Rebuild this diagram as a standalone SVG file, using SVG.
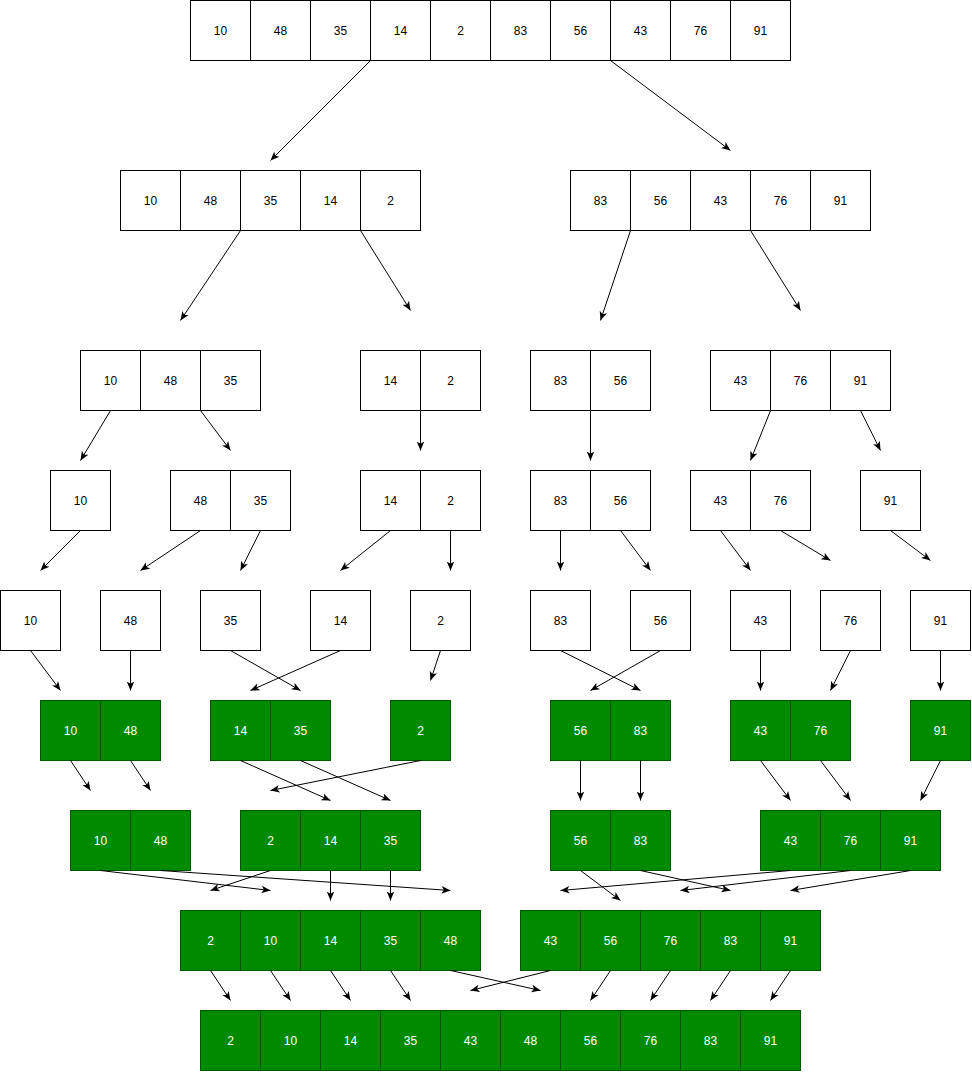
<svg xmlns="http://www.w3.org/2000/svg" width="972" height="1072" viewBox="0 0 972 1072">
<defs>
<marker id="arr" viewBox="0 0 10 10" refX="10" refY="5" markerWidth="9" markerHeight="9" markerUnits="userSpaceOnUse" orient="auto">
<path d="M0,0.8 L10,5 L0,9.2 L2.6,5 z" fill="#000"/>
</marker>
</defs>
<style>
.w rect{fill:#fff;stroke:#000;stroke-width:1}
.g rect{fill:#008a00;stroke:#005700;stroke-width:1}
text{font-family:"Liberation Sans",Arial,sans-serif;font-size:12px;text-anchor:middle;dominant-baseline:central}
.w text{fill:#000}
.g text{fill:#fff}
#connectors line{stroke:#000;stroke-width:1;marker-end:url(#arr)}
</style>
<rect x="0" y="0" width="972" height="1072" fill="#fff"/>
<g transform="translate(0.5,0.5)">
<!-- Row 1 -->
<g id="n-r1" class="w">
<rect x="190" y="0" width="60" height="60"/><text x="220" y="30">10</text>
<rect x="250" y="0" width="60" height="60"/><text x="280" y="30">48</text>
<rect x="310" y="0" width="60" height="60"/><text x="340" y="30">35</text>
<rect x="370" y="0" width="60" height="60"/><text x="400" y="30">14</text>
<rect x="430" y="0" width="60" height="60"/><text x="460" y="30">2</text>
<rect x="490" y="0" width="60" height="60"/><text x="520" y="30">83</text>
<rect x="550" y="0" width="60" height="60"/><text x="580" y="30">56</text>
<rect x="610" y="0" width="60" height="60"/><text x="640" y="30">43</text>
<rect x="670" y="0" width="60" height="60"/><text x="700" y="30">76</text>
<rect x="730" y="0" width="60" height="60"/><text x="760" y="30">91</text>
</g>
<!-- Row 2 -->
<g id="n-r2a" class="w">
<rect x="120" y="170" width="60" height="60"/><text x="150" y="200">10</text>
<rect x="180" y="170" width="60" height="60"/><text x="210" y="200">48</text>
<rect x="240" y="170" width="60" height="60"/><text x="270" y="200">35</text>
<rect x="300" y="170" width="60" height="60"/><text x="330" y="200">14</text>
<rect x="360" y="170" width="60" height="60"/><text x="390" y="200">2</text>
</g>
<g id="n-r2b" class="w">
<rect x="570" y="170" width="60" height="60"/><text x="600" y="200">83</text>
<rect x="630" y="170" width="60" height="60"/><text x="660" y="200">56</text>
<rect x="690" y="170" width="60" height="60"/><text x="720" y="200">43</text>
<rect x="750" y="170" width="60" height="60"/><text x="780" y="200">76</text>
<rect x="810" y="170" width="60" height="60"/><text x="840" y="200">91</text>
</g>
<!-- Row 3 -->
<g id="n-r3a" class="w">
<rect x="80" y="350" width="60" height="60"/><text x="110" y="380">10</text>
<rect x="140" y="350" width="60" height="60"/><text x="170" y="380">48</text>
<rect x="200" y="350" width="60" height="60"/><text x="230" y="380">35</text>
</g>
<g id="n-r3b" class="w">
<rect x="360" y="350" width="60" height="60"/><text x="390" y="380">14</text>
<rect x="420" y="350" width="60" height="60"/><text x="450" y="380">2</text>
</g>
<g id="n-r3c" class="w">
<rect x="530" y="350" width="60" height="60"/><text x="560" y="380">83</text>
<rect x="590" y="350" width="60" height="60"/><text x="620" y="380">56</text>
</g>
<g id="n-r3d" class="w">
<rect x="710" y="350" width="60" height="60"/><text x="740" y="380">43</text>
<rect x="770" y="350" width="60" height="60"/><text x="800" y="380">76</text>
<rect x="830" y="350" width="60" height="60"/><text x="860" y="380">91</text>
</g>
<!-- Row 4 -->
<g id="n-r4a" class="w">
<rect x="50" y="470" width="60" height="60"/><text x="80" y="500">10</text>
</g>
<g id="n-r4b" class="w">
<rect x="170" y="470" width="60" height="60"/><text x="200" y="500">48</text>
<rect x="230" y="470" width="60" height="60"/><text x="260" y="500">35</text>
</g>
<g id="n-r4c" class="w">
<rect x="360" y="470" width="60" height="60"/><text x="390" y="500">14</text>
<rect x="420" y="470" width="60" height="60"/><text x="450" y="500">2</text>
</g>
<g id="n-r4d" class="w">
<rect x="530" y="470" width="60" height="60"/><text x="560" y="500">83</text>
<rect x="590" y="470" width="60" height="60"/><text x="620" y="500">56</text>
</g>
<g id="n-r4e" class="w">
<rect x="690" y="470" width="60" height="60"/><text x="720" y="500">43</text>
<rect x="750" y="470" width="60" height="60"/><text x="780" y="500">76</text>
</g>
<g id="n-r4f" class="w">
<rect x="860" y="470" width="60" height="60"/><text x="890" y="500">91</text>
</g>
<!-- Row 5 -->
<g id="n-r5a" class="w"><rect x="0" y="590" width="60" height="60"/><text x="30" y="620">10</text></g>
<g id="n-r5b" class="w"><rect x="100" y="590" width="60" height="60"/><text x="130" y="620">48</text></g>
<g id="n-r5c" class="w"><rect x="200" y="590" width="60" height="60"/><text x="230" y="620">35</text></g>
<g id="n-r5d" class="w"><rect x="310" y="590" width="60" height="60"/><text x="340" y="620">14</text></g>
<g id="n-r5e" class="w"><rect x="410" y="590" width="60" height="60"/><text x="440" y="620">2</text></g>
<g id="n-r5f" class="w"><rect x="530" y="590" width="60" height="60"/><text x="560" y="620">83</text></g>
<g id="n-r5g" class="w"><rect x="630" y="590" width="60" height="60"/><text x="660" y="620">56</text></g>
<g id="n-r5h" class="w"><rect x="730" y="590" width="60" height="60"/><text x="760" y="620">43</text></g>
<g id="n-r5i" class="w"><rect x="820" y="590" width="60" height="60"/><text x="850" y="620">76</text></g>
<g id="n-r5j" class="w"><rect x="910" y="590" width="60" height="60"/><text x="940" y="620">91</text></g>
<!-- Row 6 -->
<g id="n-r6a" class="g">
<rect x="40" y="700" width="60" height="60"/><text x="70" y="730">10</text>
<rect x="100" y="700" width="60" height="60"/><text x="130" y="730">48</text>
</g>
<g id="n-r6b" class="g">
<rect x="210" y="700" width="60" height="60"/><text x="240" y="730">14</text>
<rect x="270" y="700" width="60" height="60"/><text x="300" y="730">35</text>
</g>
<g id="n-r6c" class="g">
<rect x="390" y="700" width="60" height="60"/><text x="420" y="730">2</text>
</g>
<g id="n-r6d" class="g">
<rect x="550" y="700" width="60" height="60"/><text x="580" y="730">56</text>
<rect x="610" y="700" width="60" height="60"/><text x="640" y="730">83</text>
</g>
<g id="n-r6e" class="g">
<rect x="730" y="700" width="60" height="60"/><text x="760" y="730">43</text>
<rect x="790" y="700" width="60" height="60"/><text x="820" y="730">76</text>
</g>
<g id="n-r6f" class="g">
<rect x="910" y="700" width="60" height="60"/><text x="940" y="730">91</text>
</g>
<!-- Row 7 -->
<g id="n-r7a" class="g">
<rect x="70" y="810" width="60" height="60"/><text x="100" y="840">10</text>
<rect x="130" y="810" width="60" height="60"/><text x="160" y="840">48</text>
</g>
<g id="n-r7b" class="g">
<rect x="240" y="810" width="60" height="60"/><text x="270" y="840">2</text>
<rect x="300" y="810" width="60" height="60"/><text x="330" y="840">14</text>
<rect x="360" y="810" width="60" height="60"/><text x="390" y="840">35</text>
</g>
<g id="n-r7c" class="g">
<rect x="550" y="810" width="60" height="60"/><text x="580" y="840">56</text>
<rect x="610" y="810" width="60" height="60"/><text x="640" y="840">83</text>
</g>
<g id="n-r7d" class="g">
<rect x="760" y="810" width="60" height="60"/><text x="790" y="840">43</text>
<rect x="820" y="810" width="60" height="60"/><text x="850" y="840">76</text>
<rect x="880" y="810" width="60" height="60"/><text x="910" y="840">91</text>
</g>
<!-- Row 8 -->
<g id="n-r8a" class="g">
<rect x="180" y="910" width="60" height="60"/><text x="210" y="940">2</text>
<rect x="240" y="910" width="60" height="60"/><text x="270" y="940">10</text>
<rect x="300" y="910" width="60" height="60"/><text x="330" y="940">14</text>
<rect x="360" y="910" width="60" height="60"/><text x="390" y="940">35</text>
<rect x="420" y="910" width="60" height="60"/><text x="450" y="940">48</text>
</g>
<g id="n-r8b" class="g">
<rect x="520" y="910" width="60" height="60"/><text x="550" y="940">43</text>
<rect x="580" y="910" width="60" height="60"/><text x="610" y="940">56</text>
<rect x="640" y="910" width="60" height="60"/><text x="670" y="940">76</text>
<rect x="700" y="910" width="60" height="60"/><text x="730" y="940">83</text>
<rect x="760" y="910" width="60" height="60"/><text x="790" y="940">91</text>
</g>
<!-- Row 9 -->
<g id="n-r9" class="g">
<rect x="200" y="1010" width="60" height="60"/><text x="230" y="1040">2</text>
<rect x="260" y="1010" width="60" height="60"/><text x="290" y="1040">10</text>
<rect x="320" y="1010" width="60" height="60"/><text x="350" y="1040">14</text>
<rect x="380" y="1010" width="60" height="60"/><text x="410" y="1040">35</text>
<rect x="440" y="1010" width="60" height="60"/><text x="470" y="1040">43</text>
<rect x="500" y="1010" width="60" height="60"/><text x="530" y="1040">48</text>
<rect x="560" y="1010" width="60" height="60"/><text x="590" y="1040">56</text>
<rect x="620" y="1010" width="60" height="60"/><text x="650" y="1040">76</text>
<rect x="680" y="1010" width="60" height="60"/><text x="710" y="1040">83</text>
<rect x="740" y="1010" width="60" height="60"/><text x="770" y="1040">91</text>
</g>
<!-- Connectors -->
<g id="connectors">
<line x1="370" y1="60" x2="270" y2="160"/>
<line x1="610" y1="60" x2="730" y2="150"/>
<line x1="240" y1="230" x2="180" y2="320"/>
<line x1="360" y1="230" x2="410" y2="310"/>
<line x1="630" y1="230" x2="600" y2="320"/>
<line x1="750" y1="230" x2="800" y2="310"/>
<line x1="110" y1="410" x2="80" y2="460"/>
<line x1="200" y1="410" x2="230" y2="450"/>
<line x1="420" y1="410" x2="420" y2="450"/>
<line x1="590" y1="410" x2="590" y2="460"/>
<line x1="770" y1="410" x2="750" y2="460"/>
<line x1="860" y1="410" x2="880" y2="450"/>
<line x1="80" y1="530" x2="40" y2="570"/>
<line x1="200" y1="530" x2="140" y2="570"/>
<line x1="260" y1="530" x2="240" y2="570"/>
<line x1="390" y1="530" x2="340" y2="570"/>
<line x1="450" y1="530" x2="450" y2="570"/>
<line x1="560" y1="530" x2="560" y2="570"/>
<line x1="620" y1="530" x2="650" y2="570"/>
<line x1="720" y1="530" x2="750" y2="570"/>
<line x1="780" y1="530" x2="830" y2="560"/>
<line x1="890" y1="530" x2="930" y2="560"/>
<line x1="30" y1="650" x2="60" y2="690"/>
<line x1="130" y1="650" x2="130" y2="690"/>
<line x1="230" y1="650" x2="300" y2="690"/>
<line x1="340" y1="650" x2="250" y2="690"/>
<line x1="440" y1="650" x2="430" y2="680"/>
<line x1="560" y1="650" x2="640" y2="690"/>
<line x1="660" y1="650" x2="590" y2="690"/>
<line x1="760" y1="650" x2="760" y2="690"/>
<line x1="850" y1="650" x2="830" y2="690"/>
<line x1="940" y1="650" x2="940" y2="690"/>
<line x1="70" y1="760" x2="90" y2="790"/>
<line x1="130" y1="760" x2="150" y2="790"/>
<line x1="240" y1="760" x2="330" y2="800"/>
<line x1="300" y1="760" x2="390" y2="800"/>
<line x1="420" y1="760" x2="270" y2="790"/>
<line x1="580" y1="760" x2="580" y2="800"/>
<line x1="640" y1="760" x2="640" y2="800"/>
<line x1="760" y1="760" x2="790" y2="800"/>
<line x1="820" y1="760" x2="850" y2="800"/>
<line x1="940" y1="760" x2="920" y2="800"/>
<line x1="100" y1="870" x2="270" y2="890"/>
<line x1="160" y1="870" x2="450" y2="890"/>
<line x1="270" y1="870" x2="210" y2="890"/>
<line x1="330" y1="870" x2="330" y2="900"/>
<line x1="390" y1="870" x2="390" y2="900"/>
<line x1="580" y1="870" x2="620" y2="900"/>
<line x1="640" y1="870" x2="730" y2="890"/>
<line x1="790" y1="870" x2="560" y2="890"/>
<line x1="850" y1="870" x2="680" y2="890"/>
<line x1="910" y1="870" x2="790" y2="890"/>
<line x1="210" y1="970" x2="230" y2="1000"/>
<line x1="270" y1="970" x2="290" y2="1000"/>
<line x1="330" y1="970" x2="350" y2="1000"/>
<line x1="390" y1="970" x2="410" y2="1000"/>
<line x1="450" y1="970" x2="540" y2="990"/>
<line x1="550" y1="970" x2="470" y2="990"/>
<line x1="610" y1="970" x2="590" y2="1000"/>
<line x1="670" y1="970" x2="650" y2="1000"/>
<line x1="730" y1="970" x2="710" y2="1000"/>
<line x1="790" y1="970" x2="770" y2="1000"/>
</g>
</g>
</svg>
